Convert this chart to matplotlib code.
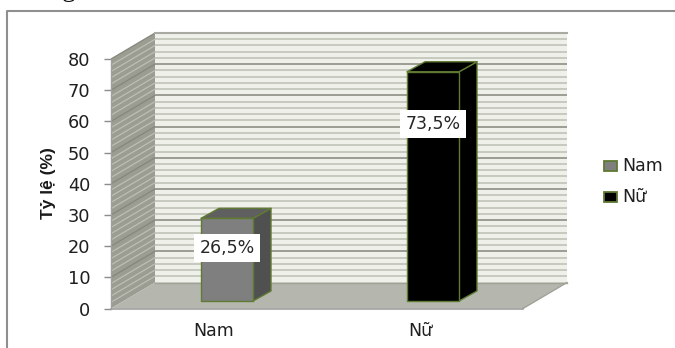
import numpy as np
import matplotlib
matplotlib.use('Agg')
import matplotlib.pyplot as plt
from matplotlib.patches import Polygon, Rectangle

# Data
CATEGORIES = ['Nam', 'Nữ']
VALUES = [26.5, 73.5]
VALUE_LABELS = ['26,5%', '73,5%']
Y_TICKS = [0, 10, 20, 30, 40, 50, 60, 70, 80]
Y_LABEL = 'Tỷ lệ (%)'

# Plotting settings
WIDTH, HEIGHT = 675, 348
DPI = 100
FRONT_LEFT, FRONT_RIGHT = 111, 523
FRONT_BOTTOM, FRONT_TOP = 308.5, 59
DEPTH_X, DEPTH_Y = 44, 26
BAR_W, BAR_DX, BAR_DY = 52, 18, 10
BAR_SHIFT_X, BAR_SHIFT_Y = 13, 7.5
LABEL_HEIGHTS = (19.4, 59.1)
EDGE = '#5f7a32'
FACES = {'Nam': ('#7f7f7f', '#5f5f5f', '#505050'), 'Nữ': ('#000000', '#000000', '#000000')}
TEXT_COLOR = '#1f1f1f'

plt.rcParams['font.family'] = ['DejaVu Sans']

fig = plt.figure(figsize=(WIDTH / DPI, HEIGHT / DPI), dpi=DPI)
ax = fig.add_axes([FRONT_LEFT / WIDTH, 1 - FRONT_BOTTOM / HEIGHT,
                   (FRONT_RIGHT - FRONT_LEFT) / WIDTH, (FRONT_BOTTOM - FRONT_TOP) / HEIGHT])
ax.set_xlim(0, len(CATEGORIES))
ax.set_ylim(0, 80)
ax.patch.set_visible(False)
for spine in ax.spines.values():
    spine.set_visible(False)

# pixel sizes converted to data units
px_x = len(CATEGORIES) / (FRONT_RIGHT - FRONT_LEFT)
px_y = 80 / (FRONT_BOTTOM - FRONT_TOP)
dx, dy = DEPTH_X * px_x, DEPTH_Y * px_y
x_max = len(CATEGORIES)


def poly(points, **kw):
    kw.setdefault('linewidth', 0)
    kw.setdefault('clip_on', False)
    ax.add_patch(Polygon(points, closed=True, **kw))


# Back wall, side wall and floor
poly([(dx, dy), (x_max + dx, dy), (x_max + dx, 80 + dy), (dx, 80 + dy)], facecolor='#eef0e9', zorder=1)
poly([(0, 0), (dx, dy), (dx, 80 + dy), (0, 80)], facecolor='#9b9d93', zorder=1)
poly([(0, 0), (x_max, 0), (x_max + dx, dy), (dx, dy)], facecolor='#b5b7af', zorder=1)

# Gridlines on both walls, heavier every 10
for v in np.arange(2, 81, 2):
    major = v % 10 == 0
    wall_color = '#85877c' if major else '#c3c6ba'
    side_color = '#85877c' if major else '#bcbfb3'
    ax.plot([dx, x_max + dx], [v + dy, v + dy], color=wall_color, lw=1.1 if major else 1.3,
            zorder=2, clip_on=False, solid_capstyle='butt')
    ax.plot([0, dx], [v, v + dy], color=side_color, lw=0.9, zorder=2, clip_on=False,
            solid_capstyle='butt')
ax.plot([dx, x_max + dx], [80 + dy, 80 + dy], color='#a9aaa2', lw=1.5, zorder=2, clip_on=False)
ax.plot([dx, x_max + dx], [dy, dy], color='#a0a298', lw=1, zorder=2, clip_on=False)
ax.plot([0, x_max], [0, 0], color='#a0a0a0', lw=1.2, zorder=3, clip_on=False)
ax.plot([0, 0], [0, 80], color='#a0a0a0', lw=1, zorder=3, clip_on=False)
ax.plot([x_max, x_max + dx], [0, dy], color='#a0a298', lw=1, zorder=3, clip_on=False)

# 3D columns
bar_w, bar_dx, bar_dy = BAR_W * px_x, BAR_DX * px_x, BAR_DY * px_y
shift_x, shift_y = BAR_SHIFT_X * px_x, BAR_SHIFT_Y * px_y
for i, (name, value, text) in enumerate(zip(CATEGORIES, VALUES, VALUE_LABELS)):
    front, top, side = FACES[name]
    x0 = i + 0.5 + shift_x - bar_w / 2
    x1 = x0 + bar_w
    y0 = shift_y
    y1 = y0 + value
    style = dict(edgecolor=EDGE, linewidth=1.0, joinstyle='round', zorder=4)
    poly([(x1, y0), (x1 + bar_dx, y0 + bar_dy), (x1 + bar_dx, y1 + bar_dy), (x1, y1)], facecolor=side, **style)
    poly([(x0, y1), (x1, y1), (x1 + bar_dx, y1 + bar_dy), (x0 + bar_dx, y1 + bar_dy)], facecolor=top, **style)
    poly([(x0, y0), (x1, y0), (x1, y1), (x0, y1)], facecolor=front, **style)
    ax.text((x0 + x1) / 2, LABEL_HEIGHTS[i], text, ha='center', va='center', fontsize=12.5,
            color='#262626', zorder=6, bbox=dict(facecolor='white', edgecolor='none', pad=3.8))

# Axes ticks and labels
ax.set_yticks(Y_TICKS)
ax.set_xticks([i + 0.5 for i in range(len(CATEGORIES))])
ax.set_xticklabels(CATEGORIES)
ax.tick_params(axis='y', length=5, width=1, color='#8c8c8c', labelsize=12.8, labelcolor=TEXT_COLOR, pad=10)
ax.tick_params(axis='x', length=0, labelsize=12.5, labelcolor=TEXT_COLOR, pad=10)
fig.text(49 / WIDTH, 1 - 183 / HEIGHT, Y_LABEL, rotation=90, ha='center', va='center',
         fontsize=12.5, fontweight='bold', color='#1a1a1a', family=['Liberation Sans Narrow', 'Liberation Sans'])

# Legend swatches
for name, y in zip(CATEGORIES, [166, 197]):
    fig.add_artist(Rectangle((604 / WIDTH, 1 - (y + 5) / HEIGHT), 13 / WIDTH, 10 / HEIGHT,
                             transform=fig.transFigure, facecolor=FACES[name][0],
                             edgecolor=EDGE, linewidth=1.3))
    fig.text(622 / WIDTH, 1 - y / HEIGHT, name, ha='left', va='center', fontsize=12.5, color=TEXT_COLOR)

# Chart frame, open at the bottom and right edges of the page
fig.add_artist(plt.Line2D([7 / WIDTH, 7 / WIDTH, 1], [0, 1 - 10.5 / HEIGHT, 1 - 10.5 / HEIGHT],
                          color='#8f8f8f', lw=1.5))

# Descender of the caption line running off the top of the page
fig.text(69 / WIDTH, 1 + 4 / HEIGHT, 'g', ha='center', va='baseline', fontsize=20,
         color='#111111', family=['Liberation Serif'])

fig.savefig('out.png', dpi=DPI)
